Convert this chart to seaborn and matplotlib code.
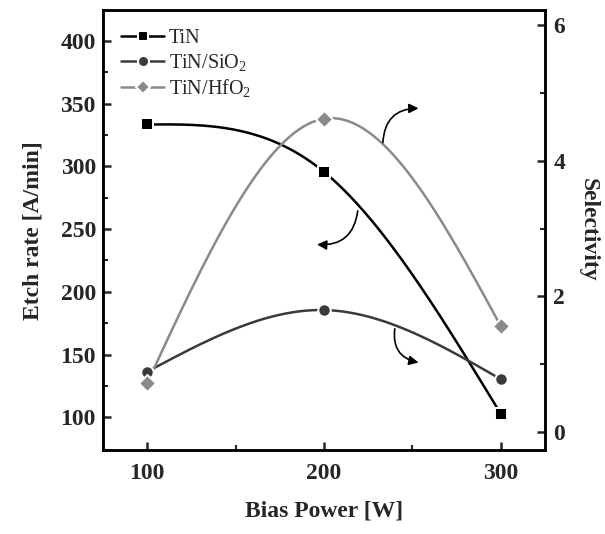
import numpy as np
import matplotlib
matplotlib.use("Agg")
from matplotlib import pyplot as plt
from matplotlib.lines import Line2D
import seaborn as sns

# values
power = [100, 200, 300]
etch_tin = [333.5, 295.7, 102.5]     # left axis, A/min
sel_sio2 = [0.89, 1.80, 0.78]         # right axis
sel_hfo2 = [0.72, 4.62, 1.56]         # right axis

labels = ["TiN", "TiN/SiO$_2$", "TiN/HfO$_2$"]
colors = ["#000000", "#3a3a3a", "#8a8a8a"]


def natural_spline(x, y, n=200):
    # smooth connection like Origin's spline line
    x = np.asarray(x, float)
    y = np.asarray(y, float)
    k = len(x)
    h = np.diff(x)
    A = np.zeros((k, k))
    b = np.zeros(k)
    A[0, 0] = A[-1, -1] = 1
    for i in range(1, k - 1):
        A[i, i - 1] = h[i - 1]
        A[i, i] = 2 * (h[i - 1] + h[i])
        A[i, i + 1] = h[i]
        b[i] = 6 * ((y[i + 1] - y[i]) / h[i] - (y[i] - y[i - 1]) / h[i - 1])
    M = np.linalg.solve(A, b)
    xs = np.linspace(x[0], x[-1], n)
    idx = np.clip(np.searchsorted(x, xs) - 1, 0, k - 2)
    x0, x1, hh = x[idx], x[idx + 1], h[idx]
    ys = (M[idx] * (x1 - xs) ** 3 / (6 * hh) + M[idx + 1] * (xs - x0) ** 3 / (6 * hh)
          + (y[idx] / hh - M[idx] * hh / 6) * (x1 - xs)
          + (y[idx + 1] / hh - M[idx + 1] * hh / 6) * (xs - x0))
    return xs, ys


sns.set_theme(style="ticks")
plt.rcParams["font.family"] = ["Liberation Serif", "DejaVu Serif"]
plt.rcParams["mathtext.fontset"] = "custom"
plt.rcParams["mathtext.rm"] = "Liberation Serif"
plt.rcParams["mathtext.default"] = "regular"

fig, ax = plt.subplots(figsize=(6.05, 5.34), dpi=100)
fig.subplots_adjust(left=0.170, right=0.901, bottom=0.157, top=0.981)
ax2 = ax.twinx()

# -----------------------------

xs, ys = natural_spline(power, etch_tin)
sns.lineplot(x=xs, y=ys, ax=ax, color=colors[0], lw=1.8, legend=False, sort=False)
sns.scatterplot(x=power, y=etch_tin, ax=ax, marker="s", s=65, color=colors[0],
                edgecolor="white", linewidth=1.4, zorder=4, legend=False)

xs, ys = natural_spline(power, sel_sio2)
sns.lineplot(x=xs, y=ys, ax=ax2, color=colors[1], lw=1.8, legend=False, sort=False)
sns.scatterplot(x=power, y=sel_sio2, ax=ax2, marker="o", s=80, color=colors[1],
                edgecolor="white", linewidth=1.4, zorder=4, legend=False)

xs, ys = natural_spline(power, sel_hfo2)
sns.lineplot(x=xs, y=ys, ax=ax2, color=colors[2], lw=1.8, legend=False, sort=False)
sns.scatterplot(x=power, y=sel_hfo2, ax=ax2, marker="D", s=75, color=colors[2],
                edgecolor="white", linewidth=1.4, zorder=4, legend=False)

# -----------------------------

ax.set_xlim(75, 325)
ax.set_ylim(73.7, 424.7)
ax2.set_ylim(-0.265, 6.22)

ax.set_xticks([100, 200, 300])
ax.set_xticks([150, 250], minor=True)
ax.set_yticks([100, 150, 200, 250, 300, 350, 400])
ax.set_yticks([125, 175, 225, 275, 325, 375], minor=True)
ax2.set_yticks([0, 2, 4, 6])
ax2.set_yticks([1, 3, 5], minor=True)

for a in (ax, ax2):
    a.tick_params(which="major", direction="in", length=6, width=1.8, labelsize=17, pad=5)
    a.tick_params(which="minor", direction="in", length=3.5, width=1.5)
    for s in a.spines.values():
        s.set_linewidth(1.8)
        s.set_color("black")
    for lbl in a.get_xticklabels() + a.get_yticklabels():
        lbl.set_fontweight("bold")
ax.tick_params(axis="x", pad=9)
ax2.tick_params(axis="y", pad=6)

ax.set_xlabel("Bias Power [W]", fontsize=17, fontweight="bold", labelpad=12)
ax.set_ylabel("Etch rate [A/min]", fontsize=17, fontweight="bold", labelpad=12)
ax2.set_ylabel("Selectivity", fontsize=17, fontweight="bold", rotation=270, labelpad=24)

handles = [
    Line2D([], [], color=colors[0], lw=1.8, marker="s", ms=7.5, mec="white", mew=1.5,
           label=labels[0]),
    Line2D([], [], color=colors[1], lw=1.8, marker="o", ms=8, mec="white", mew=1.5,
           label=labels[1]),
    Line2D([], [], color=colors[2], lw=1.8, marker="D", ms=7.5, mec="white", mew=1.5,
           label=labels[2]),
]
ax2.legend(handles=handles, loc="upper left", bbox_to_anchor=(0.01, 0.99), frameon=False,
           prop={"size": 14.5, "weight": "normal"}, handlelength=2.1, handletextpad=0.25,
           labelspacing=0.2, borderpad=0.2)

# curved arrows pointing to the axes
arrow = dict(arrowstyle="-|>", color="black", lw=1.2, mutation_scale=14)
ax2.annotate("", xy=(0.72, 0.777), xytext=(0.633, 0.693), xycoords="axes fraction",
             arrowprops=dict(arrow, connectionstyle="arc3,rad=-0.5"))
ax2.annotate("", xy=(0.478, 0.468), xytext=(0.577, 0.55), xycoords="axes fraction",
             arrowprops=dict(arrow, connectionstyle="arc3,rad=-0.5"))
ax2.annotate("", xy=(0.72, 0.198), xytext=(0.661, 0.282), xycoords="axes fraction",
             arrowprops=dict(arrow, connectionstyle="arc3,rad=0.5"))

path = "out.png"
plt.savefig(path, dpi=100)
print(f"Saved figure to {path}.")
plt.close()
